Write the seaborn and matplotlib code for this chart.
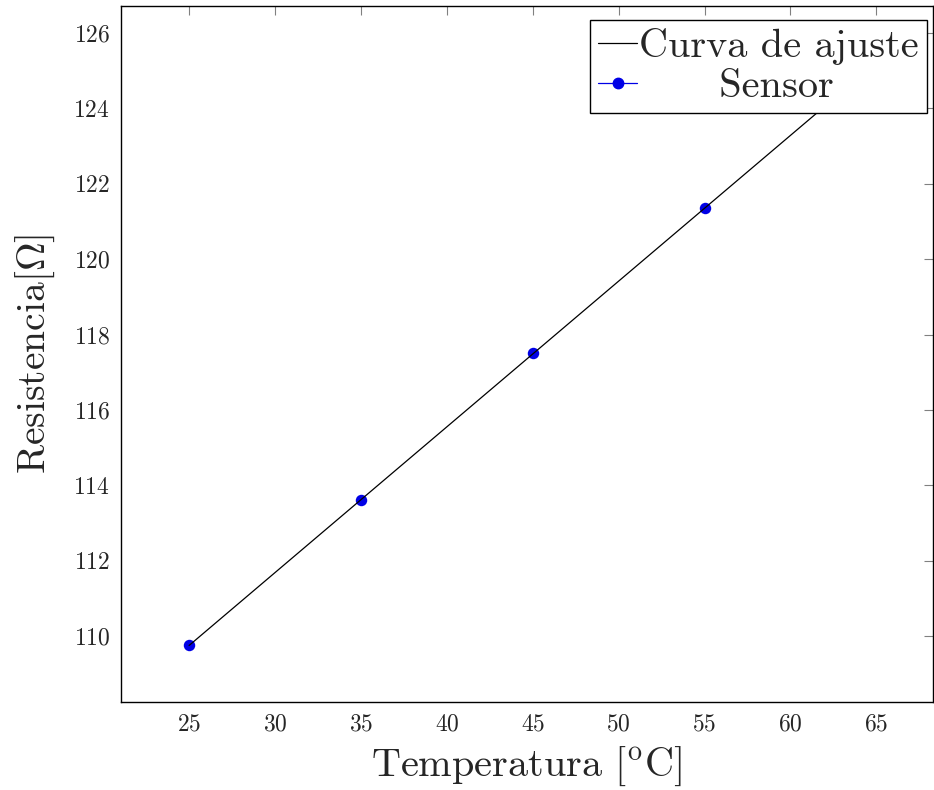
import matplotlib
matplotlib.use("Agg")
import matplotlib.pyplot as plt
from matplotlib.lines import Line2D
import seaborn as sns
import pandas as pd

# datos medidos
temperatura = [25, 35, 45, 55]
resistencia = [109.75, 113.62, 117.5, 121.35]

# curva de ajuste (extremos)
ajuste_t = [25, 65]
ajuste_r = [109.75, 125.22]

x_ticks = [25, 30, 35, 40, 45, 50, 55, 60, 65]
y_ticks = [110, 112, 114, 116, 118, 120, 122, 124, 126]

sns.set_style("white")
plt.rcParams['font.family'] = ['cmr10', 'DejaVu Sans']
plt.rcParams['mathtext.fontset'] = 'cm'
plt.rcParams['axes.formatter.use_mathtext'] = True

df_sensor = pd.DataFrame({'T': temperatura, 'R': resistencia})
df_ajuste = pd.DataFrame({'T': ajuste_t, 'R': ajuste_r})

fig = plt.figure(figsize=(9.34, 7.9), dpi=100)
ax = fig.add_axes([0.1296, 0.1114, 0.8694, 0.881])

sns.scatterplot(data=df_sensor, x='T', y='R', ax=ax, color='#0000e6', s=68,
                edgecolor='#0000e6', linewidth=0, zorder=2)
sns.lineplot(data=df_ajuste, x='T', y='R', ax=ax, color='black', linewidth=0.9,
             zorder=3)

ax.set_xlim(21.04, 68.3)
ax.set_ylim(108.25, 126.72)
ax.set_xticks(x_ticks)
ax.set_yticks(y_ticks)
ax.tick_params(direction='in', length=6.5, width=0.8, color='#808080',
               top=True, right=True, labelsize=17, pad=8)
for s in ax.spines.values():
    s.set_color('black')
    s.set_linewidth(1.0)

ax.set_xlabel(r'Temperatura [$^{\mathrm{o}}$C]', fontsize=29, labelpad=7)
ax.set_ylabel(r'Resistencia$[\Omega]$', fontsize=28.5, labelpad=12)

handles = [
    Line2D([], [], color='black', linewidth=0.9),
    Line2D([], [], color='#0000e6', linewidth=0.9, marker='o', markersize=7.5),
]
leg = ax.legend(handles, ['Curva de ajuste', '      Sensor'], loc='upper right',
                bbox_to_anchor=(0.9926, 0.9799), borderaxespad=0,
                fontsize=29, frameon=True, fancybox=False, framealpha=1,
                edgecolor='black', borderpad=0.2, handlelength=0.97,
                handletextpad=0.05, labelspacing=0.1)
leg.get_frame().set_linewidth(1.0)
leg.set_zorder(5)

fig.savefig('out.png', dpi=100)
